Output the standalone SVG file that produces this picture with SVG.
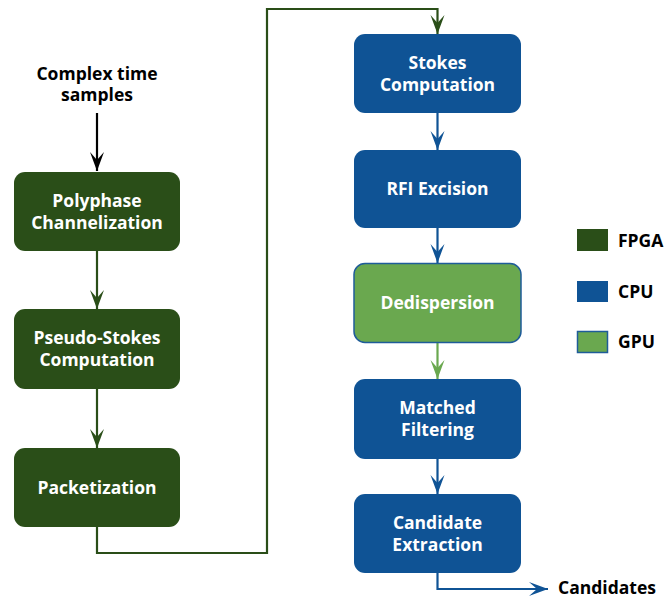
<svg xmlns="http://www.w3.org/2000/svg" width="667" height="598" viewBox="0 0 667 598">
<style>
  .fpga { fill: #2a4e18; }
  .cpu { fill: #0f5395; }
  .gpu { fill: #6aa84f; stroke: #1f5c99; stroke-width: 1.5; }
  .lbl { font-family: "Open Sans", "DejaVu Sans", sans-serif; font-weight: bold; font-size: 17.5px; fill: #ffffff; text-anchor: middle; }
  .ext { font-family: "Open Sans", "DejaVu Sans", sans-serif; font-weight: bold; font-size: 17.5px; fill: #000000; }
  .c { fill: none; stroke-width: 2.2; }
</style>
<defs>
  <marker id="aK" markerUnits="userSpaceOnUse" markerWidth="22" markerHeight="18" viewBox="-20 -9 22 18" refX="0" refY="0" orient="auto" overflow="visible">
    <path d="M0,0 L-19,-7 L-11,0 L-19,7 Z" fill="#000000"/>
  </marker>
  <marker id="aG" markerUnits="userSpaceOnUse" markerWidth="22" markerHeight="18" viewBox="-20 -9 22 18" refX="0" refY="0" orient="auto" overflow="visible">
    <path d="M0,0 L-19,-7 L-11,0 L-19,7 Z" fill="#2a4e18"/>
  </marker>
  <marker id="aB" markerUnits="userSpaceOnUse" markerWidth="22" markerHeight="18" viewBox="-20 -9 22 18" refX="0" refY="0" orient="auto" overflow="visible">
    <path d="M0,0 L-19,-7 L-11,0 L-19,7 Z" fill="#0f5395"/>
  </marker>
  <marker id="aL" markerUnits="userSpaceOnUse" markerWidth="22" markerHeight="18" viewBox="-20 -9 22 18" refX="0" refY="0" orient="auto" overflow="visible">
    <path d="M0,0 L-19,-7 L-11,0 L-19,7 Z" fill="#6aa84f"/>
  </marker>
</defs>
<rect width="667" height="598" fill="#ffffff"/>

<g id="connectors">
  <path class="c" stroke="#000000" d="M97,113 V171" marker-end="url(#aK)"/>
  <path class="c" stroke="#2a4e18" d="M97,251 V309" marker-end="url(#aG)"/>
  <path class="c" stroke="#2a4e18" d="M97,389 V448" marker-end="url(#aG)"/>
  <path class="c" stroke="#2a4e18" d="M97,527 V553 H267 V9 H437.5 V34" marker-end="url(#aG)"/>
  <path class="c" stroke="#0f5395" d="M437.5,113 V150" marker-end="url(#aB)"/>
  <path class="c" stroke="#0f5395" d="M437.5,228 V263" marker-end="url(#aB)"/>
  <path class="c" stroke="#6aa84f" d="M437.5,343 V379" marker-end="url(#aL)"/>
  <path class="c" stroke="#0f5395" d="M437.5,459 V494" marker-end="url(#aB)"/>
  <path class="c" stroke="#0f5395" d="M437.5,573 V589 H548" marker-end="url(#aB)"/>
</g>

<g id="input">
  <text class="ext" text-anchor="middle"><tspan x="97" y="80">Complex time</tspan><tspan x="97" y="101">samples</tspan></text>
</g>

<g id="polyphase">
  <rect class="fpga" x="14" y="172" width="166" height="79" rx="11"/>
  <text class="lbl"><tspan x="97" y="207">Polyphase</tspan><tspan x="97" y="229">Channelization</tspan></text>
</g>
<g id="pseudostokes">
  <rect class="fpga" x="14" y="309" width="166" height="80" rx="11"/>
  <text class="lbl"><tspan x="97" y="344">Pseudo-Stokes</tspan><tspan x="97" y="366">Computation</tspan></text>
</g>
<g id="packetization">
  <rect class="fpga" x="14" y="448" width="166" height="79" rx="11"/>
  <text class="lbl" x="97" y="494">Packetization</text>
</g>

<g id="stokes">
  <rect class="cpu" x="354" y="34" width="167" height="79" rx="11"/>
  <text class="lbl"><tspan x="437.5" y="69">Stokes</tspan><tspan x="437.5" y="91">Computation</tspan></text>
</g>
<g id="rfi">
  <rect class="cpu" x="354" y="150" width="167" height="78" rx="11"/>
  <text class="lbl" x="437.5" y="195">RFI Excision</text>
</g>
<g id="dedispersion">
  <rect class="gpu" x="354" y="263.5" width="167" height="79" rx="11"/>
  <text class="lbl" x="437.5" y="309">Dedispersion</text>
</g>
<g id="matched">
  <rect class="cpu" x="354" y="379" width="167" height="80" rx="11"/>
  <text class="lbl"><tspan x="437.5" y="414">Matched</tspan><tspan x="437.5" y="436">Filtering</tspan></text>
</g>
<g id="candidate">
  <rect class="cpu" x="354" y="494" width="167" height="79" rx="11"/>
  <text class="lbl"><tspan x="437.5" y="529">Candidate</tspan><tspan x="437.5" y="551">Extraction</tspan></text>
</g>

<g id="output">
  <text class="ext" x="558" y="594">Candidates</text>
</g>

<g id="legend">
  <rect class="fpga" x="577" y="229" width="31" height="22"/>
  <text class="ext" x="618" y="247">FPGA</text>
  <rect class="cpu" x="577" y="281" width="31" height="21"/>
  <text class="ext" x="618" y="298">CPU</text>
  <rect class="gpu" x="577.5" y="331.5" width="30" height="21"/>
  <text class="ext" x="618" y="348">GPU</text>
</g>
</svg>
